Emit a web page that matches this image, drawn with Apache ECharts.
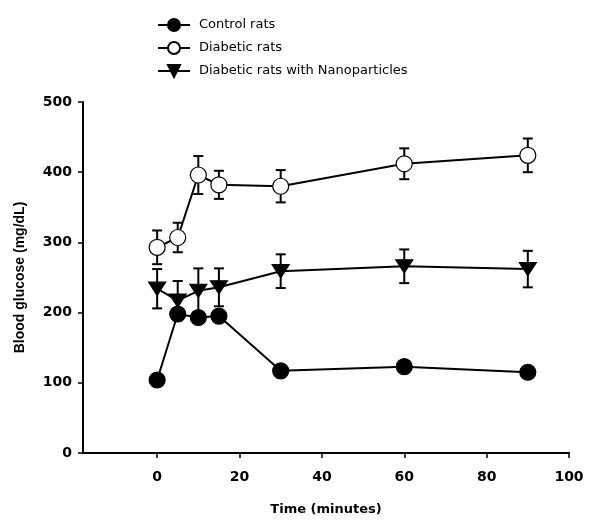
<!DOCTYPE html>
<html>
<head>
<meta charset="utf-8">
<script src="https://cdn.jsdelivr.net/npm/echarts@6/dist/echarts.min.js"></script>
<style>
  html, body { margin: 0; padding: 0; background: #fff; }
  #chart { width: 594px; height: 521px; }
</style>
</head>
<body>
<div id="chart"></div>
<script>
// 时间点 (minutes)
const times = [0, 5, 10, 15, 30, 60, 90];
const xTicks = [0, 20, 40, 60, 80, 100];

// 各组血糖均值
const controlMean = [104, 198, 193, 195, 117, 123, 115];
const diabeticMean = [293, 307, 396, 382, 380, 412, 424];
const diabeticErr = [24, 21, 27, 20, 23, 22, 24];
const nanoMean = [234, 217, 231, 236, 259, 266, 262];
const nanoErr = [28, 28, 32, 27, 24, 24, 26];

const seriesNames = ["Control rats", "Diabetic rats", "Diabetic rats with Nanoparticles"];

const chart = echarts.init(document.getElementById("chart"));

const wideFont = "'DejaVu Sans', sans-serif";
const arial = "'Liberation Sans', Arial, sans-serif";

// 误差线 (custom series)
function errorSeries(mean, err) {
    return {
        type: "custom",
        z: 1,
        silent: true,
        data: times.map((t, i) => [t, mean[i] - err[i], mean[i] + err[i]]),
        renderItem: (params, api) => {
            const lo = api.coord([api.value(0), api.value(1)]);
            const hi = api.coord([api.value(0), api.value(2)]);
            const half = 5;
            const style = { stroke: "#000", lineWidth: 2 };
            return {
                type: "group",
                children: [
                    { type: "line", shape: { x1: lo[0], y1: lo[1], x2: hi[0], y2: hi[1] }, style },
                    { type: "line", shape: { x1: hi[0] - half, y1: hi[1], x2: hi[0] + half, y2: hi[1] }, style },
                    { type: "line", shape: { x1: lo[0] - half, y1: lo[1], x2: lo[0] + half, y2: lo[1] }, style },
                ],
            };
        },
    };
}

function lineSeries(name, mean, symbol, size, fill) {
    return {
        name,
        type: "line",
        z: 3,
        data: times.map((t, i) => [t, mean[i]]),
        symbol,
        symbolSize: size,
        symbolKeepAspect: true,
        showAllSymbol: true,
        lineStyle: { color: "#000", width: 2 },
        itemStyle: { color: fill, borderColor: "#000", borderWidth: 1.2 },
        emphasis: { disabled: true },
    };
}

const triangle = "path://M0,0 L16,0 L8,14 Z";

chart.setOption({
    animation: false,
    backgroundColor: "#fff",
    legend: {
        orient: "vertical",
        left: 152,
        top: 13,
        itemWidth: 32,
        itemHeight: 15,
        itemGap: 9,
        textStyle: { fontFamily: wideFont, fontSize: 13, color: "#000", padding: [0, 0, 0, 4] },
        data: seriesNames,
    },
    grid: { left: 83, right: 25, top: 102, bottom: 63 },
    xAxis: {
        type: "value",
        min: -18,
        max: 100,
        name: "Time (minutes)",
        nameLocation: "middle",
        nameGap: 50,
        nameTextStyle: { fontFamily: wideFont, fontSize: 13, fontWeight: "bold", color: "#000" },
        axisLine: { onZero: false, lineStyle: { color: "#000", width: 2 } },
        axisTick: { customValues: xTicks, length: 5, lineStyle: { color: "#000", width: 1.5 } },
        axisLabel: {
            customValues: xTicks,
            margin: 17,
            fontFamily: wideFont,
            fontSize: 14,
            fontWeight: "bold",
            color: "#000",
        },
        splitLine: { show: false },
    },
    yAxis: {
        type: "value",
        min: 0,
        max: 500,
        interval: 100,
        name: "Blood glucose (mg/dL)",
        nameLocation: "middle",
        nameGap: 56,
        nameTextStyle: { fontFamily: arial, fontSize: 14, fontWeight: "bold", color: "#000" },
        axisLine: { show: true, onZero: false, lineStyle: { color: "#000", width: 2 } },
        axisTick: { show: true, length: 5, lineStyle: { color: "#000", width: 1.5 } },
        axisLabel: { margin: 11, fontFamily: wideFont, fontSize: 14, fontWeight: "bold", color: "#000" },
        splitLine: { show: false },
    },
    series: [
        errorSeries(diabeticMean, diabeticErr),
        errorSeries(nanoMean, nanoErr),
        lineSeries(seriesNames[0], controlMean, "circle", 16, "#000"),
        lineSeries(seriesNames[1], diabeticMean, "circle", 16, "#fff"),
        lineSeries(seriesNames[2], nanoMean, triangle, [17, 15], "#000"),
    ],
});
</script>
</body>
</html>
